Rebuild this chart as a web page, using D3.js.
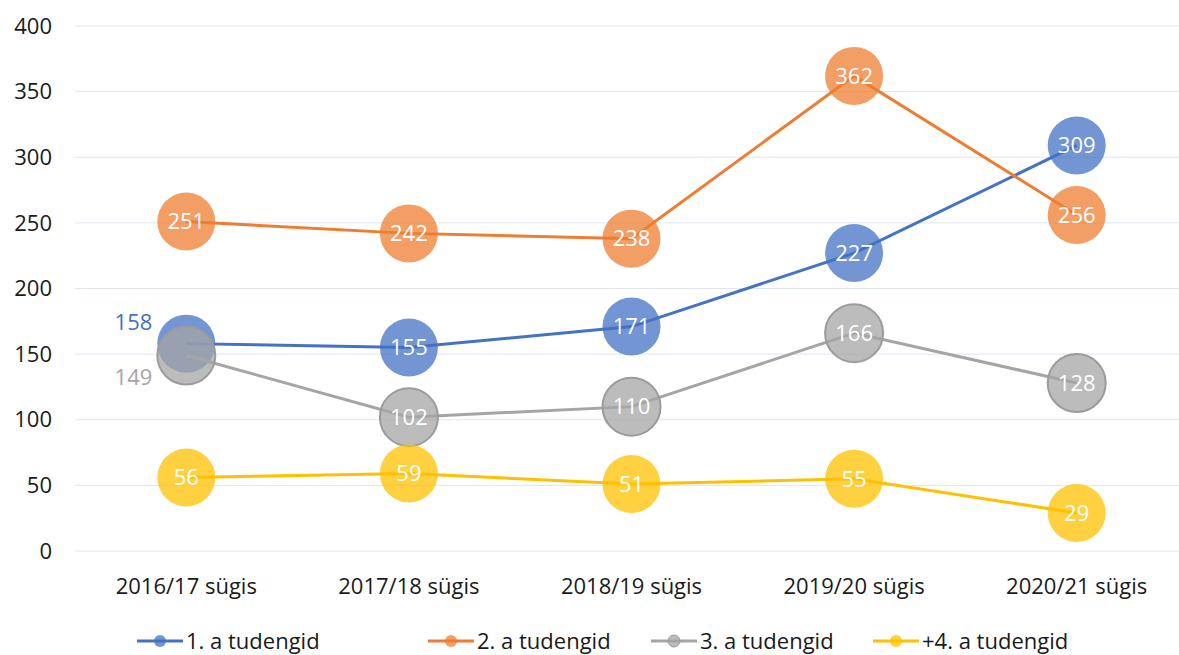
<!DOCTYPE html>
<html>
<head>
<meta charset="utf-8">
<script src="https://cdn.jsdelivr.net/npm/d3@7"></script>
<style>
  body { margin: 0; background: #fff; }
  svg text { font-family: "Open Sans", "Noto Sans", sans-serif; }
</style>
</head>
<body>
<svg id="chart" width="1179" height="655"></svg>
<script>
var categories = ["2016/17 sügis", "2017/18 sügis", "2018/19 sügis", "2019/20 sügis", "2020/21 sügis"];
var seriesNames = ["1. a tudengid", "2. a tudengid", "3. a tudengid", "+4. a tudengid"];
var first = [158, 155, 171, 227, 309];
var second = [251, 242, 238, 362, 256];
var third = [149, 102, 110, 166, 128];
var fourth = [56, 59, 51, 55, 29];
var yTicks = [0, 50, 100, 150, 200, 250, 300, 350, 400];
var colors = ["#4472C4", "#ED7D31", "#A5A5A5", "#FFC000"];

var allSeries = [first, second, third, fourth];

var svg = d3.select("#chart");

var x = d3.scaleBand().domain(categories).range([75, 1188]);
var y = d3.scaleLinear().domain([0, 400]).range([551, 26]);

// grid
svg.append("g").selectAll("line").data(yTicks).enter()
  .append("line")
  .attr("x1", 75).attr("x2", 1179)
  .attr("y1", function (d) { return y(d); })
  .attr("y2", function (d) { return y(d); })
  .style("stroke", "#dfe5f0")
  .style("stroke-width", 1);

// y axis labels
svg.append("g").selectAll("text").data(yTicks).enter()
  .append("text")
  .attr("x", 52)
  .attr("y", function (d) { return y(d); })
  .attr("dy", "0.35em")
  .attr("text-anchor", "end")
  .attr("font-size", "22px")
  .attr("fill", "#1a1a1a")
  .text(function (d) { return d; });

// x axis labels
svg.append("g").selectAll("text").data(categories).enter()
  .append("text")
  .attr("x", function (d) { return x(d) + x.bandwidth() / 2; })
  .attr("y", 594)
  .attr("text-anchor", "middle")
  .attr("font-size", "22px")
  .attr("fill", "#1a1a1a")
  .text(function (d) { return d; });

var line = d3.line()
  .x(function (d, i) { return x(categories[i]) + x.bandwidth() / 2; })
  .y(function (d) { return y(d); });

allSeries.forEach(function (vals, s) {
  var g = svg.append("g").attr("id", "s" + s);
  g.append("path")
    .datum(vals)
    .attr("d", line)
    .style("fill", "none")
    .style("stroke", colors[s])
    .style("stroke-width", 3);

  g.selectAll("circle").data(vals).enter()
    .append("circle")
    .attr("cx", function (d, i) { return x(categories[i]) + x.bandwidth() / 2; })
    .attr("cy", function (d) { return y(d); })
    .attr("r", 29)
    .style("fill", colors[s])
    .style("fill-opacity", 0.75)
    .style("stroke", s == 2 ? "#9b9b9b" : "none")
    .style("stroke-width", 2);
});

// data labels (first point of series 1 and 3 sit outside to the left)
allSeries.forEach(function (vals, s) {
  svg.append("g").selectAll("text").data(vals).enter()
    .append("text")
    .attr("x", function (d, i) {
      var cx = x(categories[i]) + x.bandwidth() / 2;
      if (i == 0 && (s == 0 || s == 2)) return cx - 34;
      return cx;
    })
    .attr("y", function (d, i) {
      var cy = y(d);
      if (i == 0 && s == 0) return cy - 21;
      if (i == 0 && s == 2) return cy + 22;
      return cy;
    })
    .attr("dy", "0.35em")
    .attr("text-anchor", function (d, i) { return (i == 0 && (s == 0 || s == 2)) ? "end" : "middle"; })
    .attr("font-size", "22px")
    .attr("fill", function (d, i) { return (i == 0 && (s == 0 || s == 2)) ? colors[s] : "#fff"; })
    .text(function (d) { return d; });
});

// legend
var legendX = [137, 428, 651, 873];
var legend = svg.append("g").selectAll("g").data(seriesNames).enter()
  .append("g")
  .attr("transform", function (d, i) { return "translate(" + legendX[i] + ",641)"; });
legend.append("line")
  .attr("x1", 0).attr("x2", 46).attr("y1", 0).attr("y2", 0)
  .style("stroke", function (d, i) { return colors[i]; })
  .style("stroke-width", 3);
legend.append("circle")
  .attr("cx", 23).attr("cy", 0).attr("r", 6)
  .style("fill", function (d, i) { return colors[i]; })
  .style("fill-opacity", 0.75)
  .style("stroke", function (d, i) { return i == 2 ? "#9b9b9b" : "none"; });
legend.append("text")
  .attr("x", 49).attr("y", 0).attr("dy", "0.35em")
  .attr("font-size", "22px")
  .attr("fill", "#1a1a1a")
  .text(function (d) { return d; });
</script>
</body>
</html>
